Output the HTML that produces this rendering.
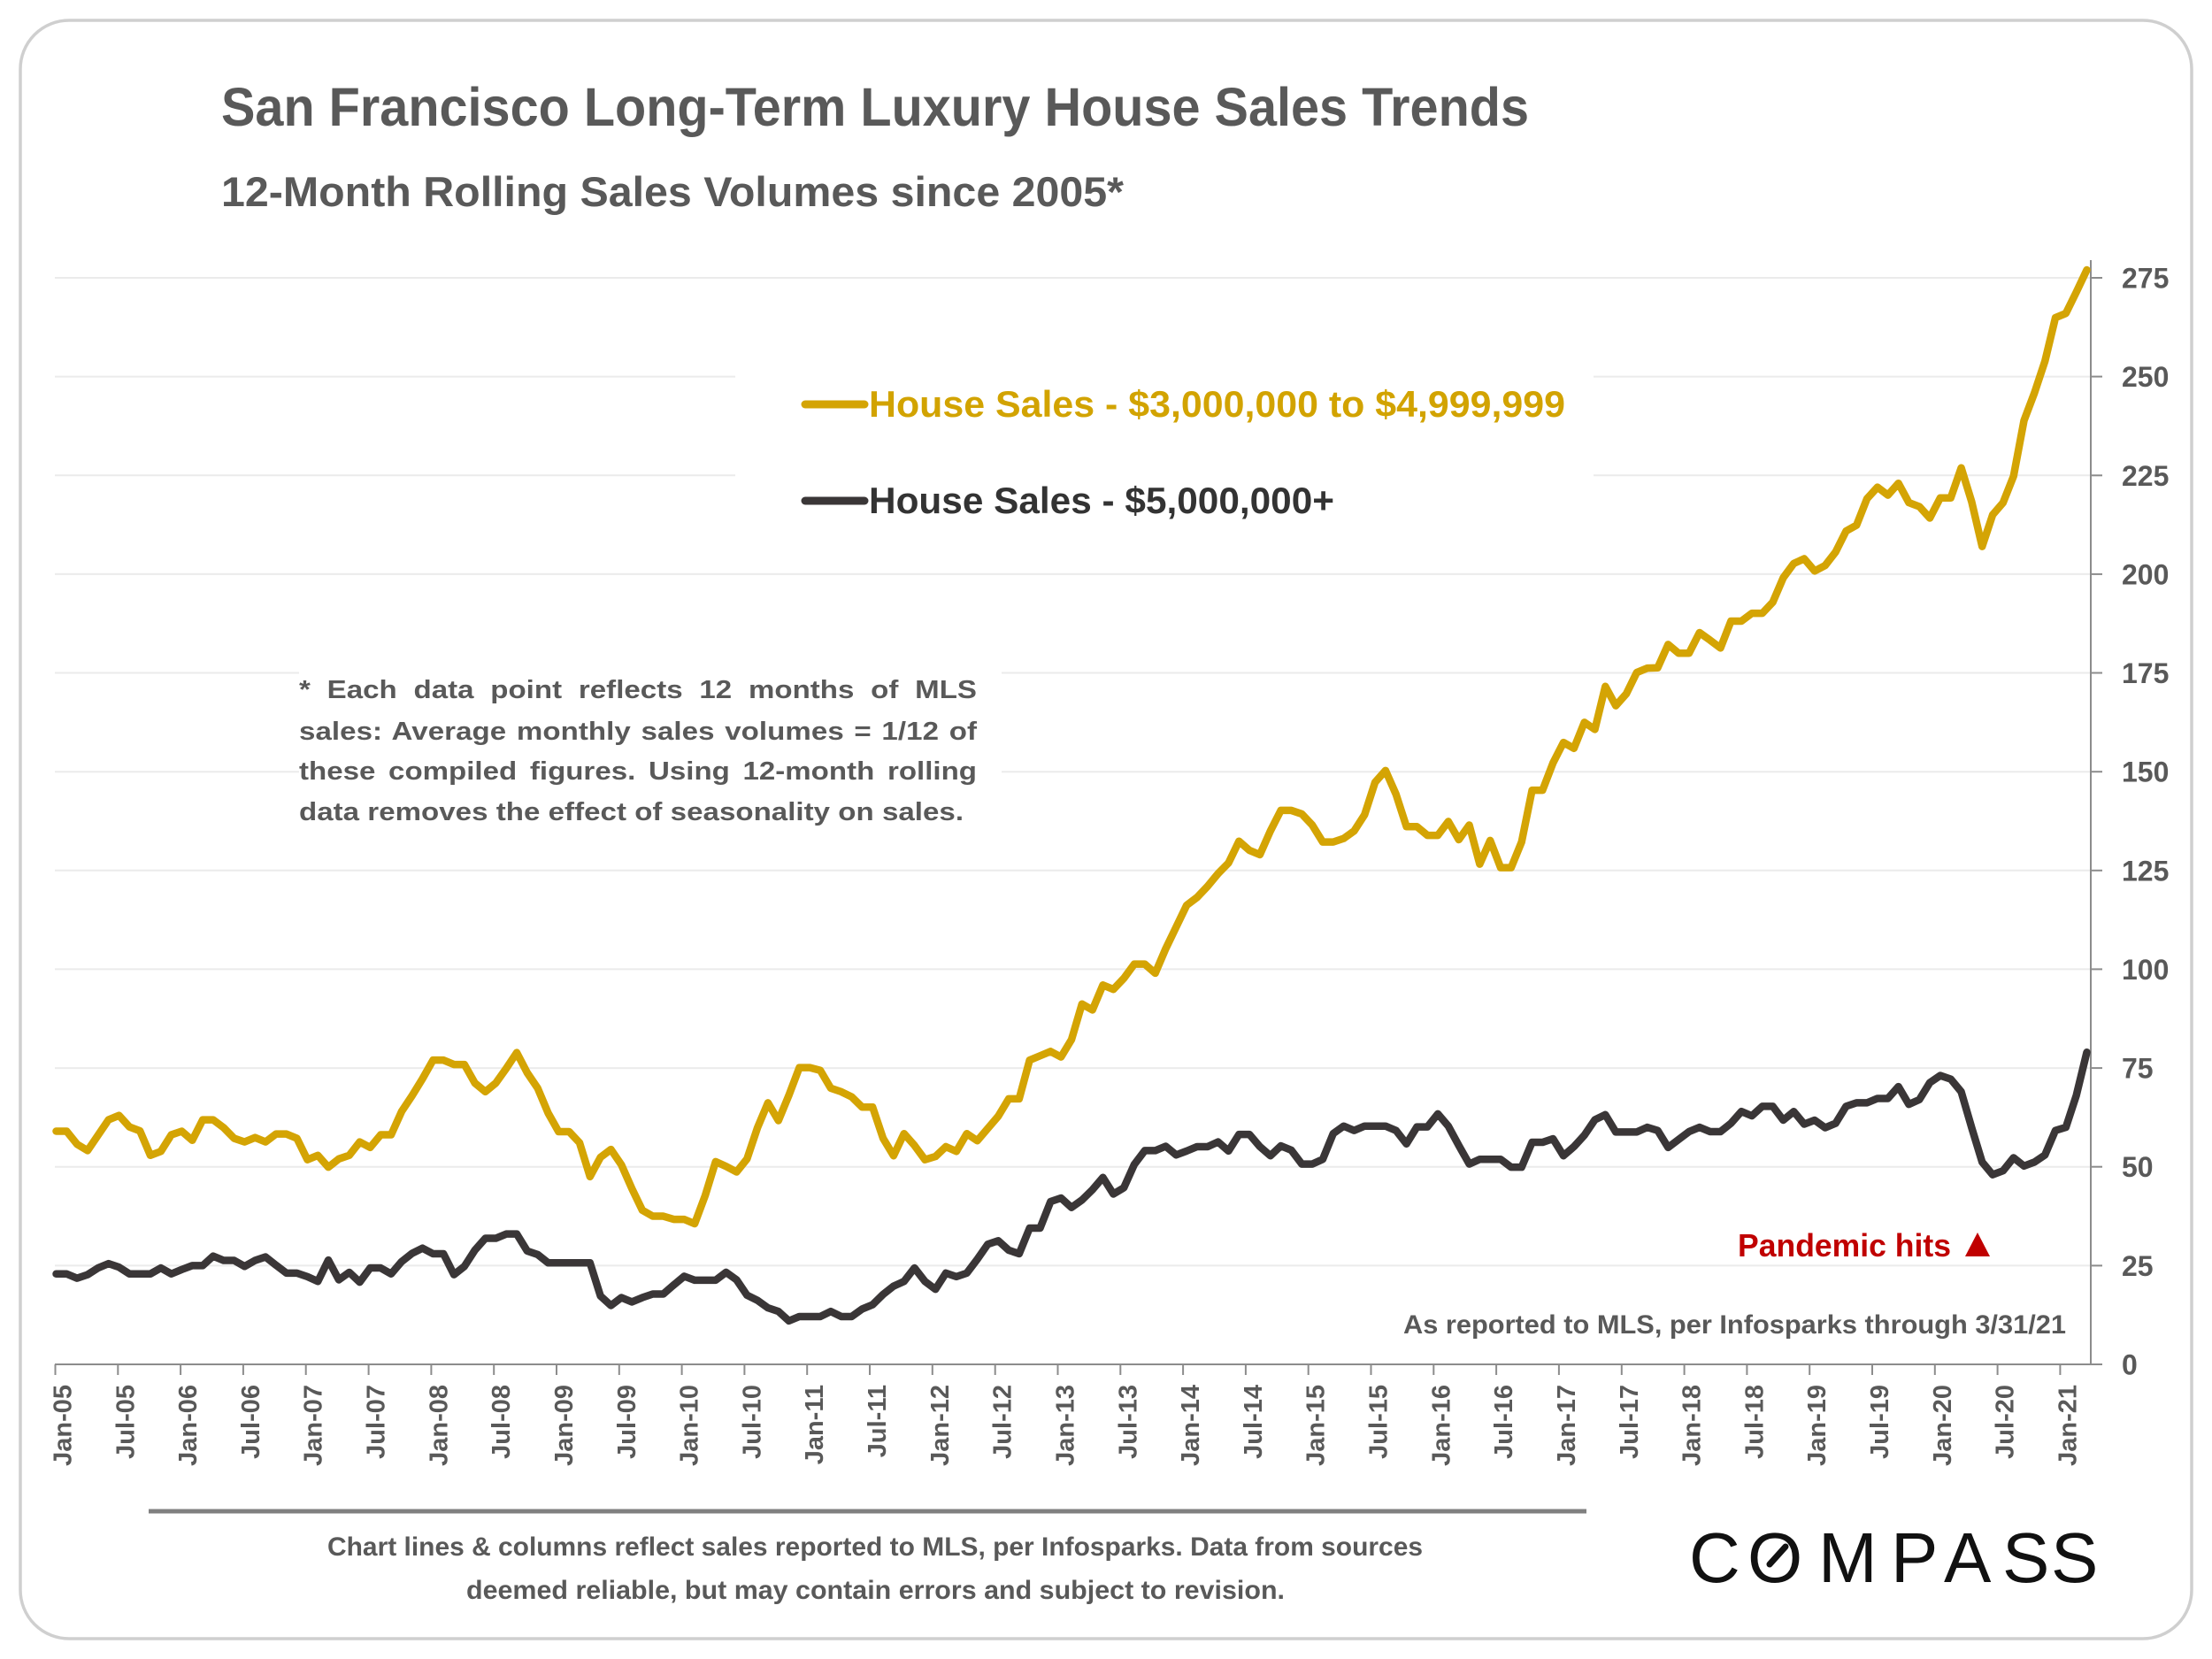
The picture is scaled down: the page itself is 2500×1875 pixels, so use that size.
<!DOCTYPE html>
<html>
<head>
<meta charset="utf-8">
<style>
  html,body{margin:0;padding:0;background:#fff;}
  svg{display:block;}
  text{font-family:"Liberation Sans",Arial,sans-serif;}
</style>
</head>
<body>
<svg width="2500" height="1875" viewBox="0 0 2500 1875" xmlns="http://www.w3.org/2000/svg">
  <rect x="0" y="0" width="2500" height="1875" fill="#fff"/>
  <!-- card -->
  <rect x="23" y="23" width="2454" height="1829" rx="55" ry="55" fill="#fff" stroke="#cfcfcf" stroke-width="3.5"/>

  <!-- titles -->
  <text x="250" y="142" font-size="61" font-weight="bold" fill="#595959" textLength="1478" lengthAdjust="spacingAndGlyphs">San Francisco Long-Term Luxury House Sales Trends</text>
  <text x="250" y="233" font-size="47" font-weight="bold" fill="#595959" textLength="1020" lengthAdjust="spacingAndGlyphs">12-Month Rolling Sales Volumes since 2005*</text>

  <!-- gridlines -->
  <g stroke="#ebebeb" stroke-width="2">
    <line x1="62" y1="314" x2="2363" y2="314"/>
    <line x1="62" y1="425.6" x2="2363" y2="425.6"/>
    <line x1="62" y1="537.3" x2="2363" y2="537.3"/>
    <line x1="62" y1="648.9" x2="2363" y2="648.9"/>
    <line x1="62" y1="760.5" x2="2363" y2="760.5"/>
    <line x1="62" y1="872.2" x2="2363" y2="872.2"/>
    <line x1="62" y1="983.8" x2="2363" y2="983.8"/>
    <line x1="62" y1="1095.4" x2="2363" y2="1095.4"/>
    <line x1="62" y1="1207.1" x2="2363" y2="1207.1"/>
    <line x1="62" y1="1318.7" x2="2363" y2="1318.7"/>
    <line x1="62" y1="1430.4" x2="2363" y2="1430.4"/>
  </g>

  <!-- white boxes behind legend and note -->
  <rect x="831" y="395" width="970" height="235" fill="#fff"/>
  <rect x="338" y="740" width="794" height="205" fill="#fff"/>

  <!-- axes -->
  <g stroke="#8c8c8c" stroke-width="2">
    <line x1="2363" y1="294" x2="2363" y2="1543"/>
    <line x1="62" y1="1542" x2="2364" y2="1542"/>
    <!-- y ticks -->
    <line x1="2363" y1="314" x2="2376" y2="314"/>
    <line x1="2363" y1="425.6" x2="2376" y2="425.6"/>
    <line x1="2363" y1="537.3" x2="2376" y2="537.3"/>
    <line x1="2363" y1="648.9" x2="2376" y2="648.9"/>
    <line x1="2363" y1="760.5" x2="2376" y2="760.5"/>
    <line x1="2363" y1="872.2" x2="2376" y2="872.2"/>
    <line x1="2363" y1="983.8" x2="2376" y2="983.8"/>
    <line x1="2363" y1="1095.4" x2="2376" y2="1095.4"/>
    <line x1="2363" y1="1207.1" x2="2376" y2="1207.1"/>
    <line x1="2363" y1="1318.7" x2="2376" y2="1318.7"/>
    <line x1="2363" y1="1430.4" x2="2376" y2="1430.4"/>
    <line x1="2363" y1="1542" x2="2376" y2="1542"/>
    <!-- x ticks -->
    <line x1="62.5" y1="1542" x2="62.5" y2="1554"/>
    <line x1="133.3" y1="1542" x2="133.3" y2="1554"/>
    <line x1="204.1" y1="1542" x2="204.1" y2="1554"/>
    <line x1="274.9" y1="1542" x2="274.9" y2="1554"/>
    <line x1="345.7" y1="1542" x2="345.7" y2="1554"/>
    <line x1="416.6" y1="1542" x2="416.6" y2="1554"/>
    <line x1="487.4" y1="1542" x2="487.4" y2="1554"/>
    <line x1="558.2" y1="1542" x2="558.2" y2="1554"/>
    <line x1="629" y1="1542" x2="629" y2="1554"/>
    <line x1="699.8" y1="1542" x2="699.8" y2="1554"/>
    <line x1="770.6" y1="1542" x2="770.6" y2="1554"/>
    <line x1="841.4" y1="1542" x2="841.4" y2="1554"/>
    <line x1="912.2" y1="1542" x2="912.2" y2="1554"/>
    <line x1="983" y1="1542" x2="983" y2="1554"/>
    <line x1="1053.8" y1="1542" x2="1053.8" y2="1554"/>
    <line x1="1124.7" y1="1542" x2="1124.7" y2="1554"/>
    <line x1="1195.5" y1="1542" x2="1195.5" y2="1554"/>
    <line x1="1266.3" y1="1542" x2="1266.3" y2="1554"/>
    <line x1="1337.1" y1="1542" x2="1337.1" y2="1554"/>
    <line x1="1407.9" y1="1542" x2="1407.9" y2="1554"/>
    <line x1="1478.7" y1="1542" x2="1478.7" y2="1554"/>
    <line x1="1549.5" y1="1542" x2="1549.5" y2="1554"/>
    <line x1="1620.3" y1="1542" x2="1620.3" y2="1554"/>
    <line x1="1691.1" y1="1542" x2="1691.1" y2="1554"/>
    <line x1="1761.9" y1="1542" x2="1761.9" y2="1554"/>
    <line x1="1832.8" y1="1542" x2="1832.8" y2="1554"/>
    <line x1="1903.6" y1="1542" x2="1903.6" y2="1554"/>
    <line x1="1974.4" y1="1542" x2="1974.4" y2="1554"/>
    <line x1="2045.2" y1="1542" x2="2045.2" y2="1554"/>
    <line x1="2116" y1="1542" x2="2116" y2="1554"/>
    <line x1="2186.8" y1="1542" x2="2186.8" y2="1554"/>
    <line x1="2257.6" y1="1542" x2="2257.6" y2="1554"/>
    <line x1="2328.4" y1="1542" x2="2328.4" y2="1554"/>
  </g>

  <!-- y labels -->
  <g font-size="32" font-weight="bold" fill="#595959">
    <text x="2398" y="325.5">275</text>
    <text x="2398" y="437.1">250</text>
    <text x="2398" y="548.8">225</text>
    <text x="2398" y="660.4">200</text>
    <text x="2398" y="772">175</text>
    <text x="2398" y="883.7">150</text>
    <text x="2398" y="995.3">125</text>
    <text x="2398" y="1106.9">100</text>
    <text x="2398" y="1218.6">75</text>
    <text x="2398" y="1330.2">50</text>
    <text x="2398" y="1441.9">25</text>
    <text x="2398" y="1553.5">0</text>
  </g>

  <!-- x labels -->
  <g font-size="29" font-weight="bold" fill="#595959" text-anchor="end">
    <text transform="translate(80.5,1565) rotate(-90)">Jan-05</text>
    <text transform="translate(151.3,1565) rotate(-90)">Jul-05</text>
    <text transform="translate(222.1,1565) rotate(-90)">Jan-06</text>
    <text transform="translate(292.9,1565) rotate(-90)">Jul-06</text>
    <text transform="translate(363.7,1565) rotate(-90)">Jan-07</text>
    <text transform="translate(434.6,1565) rotate(-90)">Jul-07</text>
    <text transform="translate(505.4,1565) rotate(-90)">Jan-08</text>
    <text transform="translate(576.2,1565) rotate(-90)">Jul-08</text>
    <text transform="translate(647,1565) rotate(-90)">Jan-09</text>
    <text transform="translate(717.8,1565) rotate(-90)">Jul-09</text>
    <text transform="translate(788.6,1565) rotate(-90)">Jan-10</text>
    <text transform="translate(859.4,1565) rotate(-90)">Jul-10</text>
    <text transform="translate(930.2,1565) rotate(-90)">Jan-11</text>
    <text transform="translate(1001,1565) rotate(-90)">Jul-11</text>
    <text transform="translate(1071.8,1565) rotate(-90)">Jan-12</text>
    <text transform="translate(1142.7,1565) rotate(-90)">Jul-12</text>
    <text transform="translate(1213.5,1565) rotate(-90)">Jan-13</text>
    <text transform="translate(1284.3,1565) rotate(-90)">Jul-13</text>
    <text transform="translate(1355.1,1565) rotate(-90)">Jan-14</text>
    <text transform="translate(1425.9,1565) rotate(-90)">Jul-14</text>
    <text transform="translate(1496.7,1565) rotate(-90)">Jan-15</text>
    <text transform="translate(1567.5,1565) rotate(-90)">Jul-15</text>
    <text transform="translate(1638.3,1565) rotate(-90)">Jan-16</text>
    <text transform="translate(1709.1,1565) rotate(-90)">Jul-16</text>
    <text transform="translate(1779.9,1565) rotate(-90)">Jan-17</text>
    <text transform="translate(1850.8,1565) rotate(-90)">Jul-17</text>
    <text transform="translate(1921.6,1565) rotate(-90)">Jan-18</text>
    <text transform="translate(1992.4,1565) rotate(-90)">Jul-18</text>
    <text transform="translate(2063.2,1565) rotate(-90)">Jan-19</text>
    <text transform="translate(2134,1565) rotate(-90)">Jul-19</text>
    <text transform="translate(2204.8,1565) rotate(-90)">Jan-20</text>
    <text transform="translate(2275.6,1565) rotate(-90)">Jul-20</text>
    <text transform="translate(2346.4,1565) rotate(-90)">Jan-21</text>
  </g>

  <!-- data series -->
  <g transform="translate(63.5,1542) scale(11.83,-4.4655)" fill="none" stroke-linejoin="round" stroke-linecap="round">
    <polyline vector-effect="non-scaling-stroke" stroke="#d4a404" stroke-width="8.5" points="0,59 1,59 2,55.7 3,54.1 4,58 5,61.9 6,63 7,60.1 8,59.1 9,52.9 10,53.9 11,58.1 12,59 13,56.7 14,61.9 15,61.9 16,59.9 17,57.2 18,56.3 19,57.4 20,56.3 21,58.3 22,58.3 23,57.2 24,51.8 25,52.9 26,49.9 27,52 28,52.9 29,56.3 30,54.9 31,58.1 32,58.1 33,64 34,68 35,72.3 36,77 37,77 38,75.9 39,75.9 40,71.2 41,69 42,71.2 43,74.9 44,78.9 45,73.8 46,69.9 47,63.6 48,58.9 49,58.9 50,56.1 51,47.5 52,52.4 53,54.4 54,50.5 55,44.5 56,39 57,37.5 58,37.5 59,36.7 60,36.7 61,35.6 62,42.7 63,51.3 64,50.1 65,48.7 66,52 67,59.9 68,66.2 69,61.7 70,68.1 71,75.1 72,75.1 73,74.4 74,69.9 75,69 76,67.7 77,65.1 78,65.1 79,57.2 80,52.8 81,58.4 82,55.4 83,51.8 84,52.6 85,55.1 86,53.9 87,58.4 88,56.6 89,59.7 90,62.8 91,67.2 92,67.2 93,77 94,78.1 95,79.2 96,77.8 97,82.2 98,91.2 99,89.7 100,96 101,94.9 102,97.7 103,101.3 104,101.3 105,99 106,105.2 107,110.7 108,116.2 109,118.2 110,121 111,124.2 112,126.9 113,132.4 114,130.1 115,129 116,135 117,140.2 118,140.2 119,139.3 120,136.5 121,132.2 122,132.2 123,133.1 124,135 125,139.1 126,147.3 127,150.3 128,144.3 129,136.1 130,136.1 131,133.9 132,133.9 133,137.4 134,132.8 135,136.5 136,126.6 137,132.6 138,125.7 139,125.7 140,132.2 141,145.3 142,145.3 143,152.2 144,157.4 145,155.9 146,162.5 147,160.7 148,171.6 149,166.7 150,169.7 151,175.1 152,176.2 153,176.3 154,182.2 155,180 156,180 157,185.2 158,183.3 159,181.3 160,188.1 161,188.1 162,190.1 163,190.1 164,192.9 165,199.1 166,202.7 167,203.9 168,200.8 169,202.2 170,205.6 171,210.9 172,212.4 173,219.1 174,222 175,220 176,223 177,218.1 178,217.1 179,214.2 180,219.3 181,219.3 182,226.9 183,218.3 184,207 185,215 186,218.1 187,224.8 188,238.9 189,245.9 190,253.9 191,264.9 192,266 193,271.4 194,277"/>
    <polyline vector-effect="non-scaling-stroke" stroke="#3a3637" stroke-width="8.5" points="0,22.9 1,22.9 2,21.8 3,22.7 4,24.4 5,25.5 6,24.6 7,22.9 8,22.9 9,22.9 10,24.4 11,22.9 12,24 13,25 14,25 15,27.4 16,26.3 17,26.3 18,24.8 19,26.3 20,27.2 21,25.1 22,23.1 23,23.1 24,22.2 25,21 26,26.4 27,21.4 28,23.3 29,20.8 30,24.4 31,24.4 32,22.9 33,26 34,28.1 35,29.4 36,28 37,28 38,22.7 39,24.8 40,28.9 41,31.9 42,31.9 43,33 44,33 45,28.7 46,27.8 47,25.7 48,25.7 49,25.7 50,25.7 51,25.7 52,17.3 53,14.9 54,16.9 55,15.8 56,16.9 57,17.8 58,17.8 59,20.1 60,22.3 61,21.3 62,21.3 63,21.3 64,23.3 65,21.4 66,17.5 67,16.2 68,14.3 69,13.4 70,11 71,12.1 72,12.1 73,12.1 74,13.4 75,12.1 76,12.1 77,14 78,15.1 79,17.7 80,19.8 81,21 82,24.4 83,21 84,19 85,23.1 86,22.2 87,23.1 88,26.6 89,30.4 90,31.3 91,28.9 92,28 93,34.5 94,34.5 95,41.2 96,42.1 97,39.7 98,41.6 99,44.2 100,47.3 101,43.1 102,44.7 103,50.6 104,54.1 105,54.1 106,55.2 107,53 108,54 109,55.1 110,55.1 111,56.3 112,54 113,58.2 114,58.2 115,55.1 116,52.8 117,55.3 118,54.2 119,50.7 120,50.7 121,51.9 122,58.4 123,60.3 124,59.2 125,60.3 126,60.3 127,60.3 128,59.2 129,55.8 130,60.1 131,60.1 132,63.4 133,60.3 134,55.4 135,50.7 136,51.9 137,51.9 138,51.9 139,49.9 140,49.9 141,56.2 142,56.2 143,57.1 144,52.8 145,55.1 146,58 147,61.9 148,63.2 149,58.8 150,58.8 151,58.8 152,60 153,59.2 154,54.9 155,56.9 156,58.9 157,60 158,58.9 159,58.9 160,61 161,64 162,62.9 163,65.3 164,65.3 165,61.8 166,64 167,60.8 168,61.8 169,59.9 170,61 171,65.3 172,66.2 173,66.2 174,67.3 175,67.3 176,70.3 177,65.8 178,67 179,71.3 180,73.1 181,72.2 182,69 183,59.9 184,51.2 185,48 186,49 187,52.3 188,50.2 189,51.2 190,53 191,59.2 192,60 193,68.1 194,79"/>
  </g>

  <!-- legend -->
  <line x1="910" y1="457" x2="977" y2="457" stroke="#d4a404" stroke-width="9" stroke-linecap="round"/>
  <text x="982" y="471" font-size="42" font-weight="bold" fill="#d2a300" textLength="787" lengthAdjust="spacingAndGlyphs">House Sales - $3,000,000 to $4,999,999</text>
  <line x1="910" y1="566" x2="977" y2="566" stroke="#3a3637" stroke-width="9" stroke-linecap="round"/>
  <text x="982" y="580" font-size="42" font-weight="bold" fill="#333" textLength="526" lengthAdjust="spacingAndGlyphs">House Sales - $5,000,000+</text>

  <!-- note (justified, horizontally widened to mimic original font) -->
  <g font-size="29" font-weight="bold" fill="#595959" transform="translate(338,0) scale(1.14,1)">
    <text x="0" y="789" word-spacing="8.4" textLength="671.9" lengthAdjust="spacing">* Each data point reflects 12 months of MLS</text>
    <text x="0" y="836" word-spacing="2.1" textLength="671.9" lengthAdjust="spacing">sales: Average monthly sales volumes = 1/12 of</text>
    <text x="0" y="881" word-spacing="4.8" textLength="671.9" lengthAdjust="spacing">these compiled figures. Using 12-month rolling</text>
    <text x="0" y="927" textLength="658.8" lengthAdjust="spacing">data removes the effect of seasonality on sales.</text>
  </g>

  <!-- pandemic annotation -->
  <text x="1964" y="1420" font-size="36" font-weight="bold" fill="#c00000" textLength="241" lengthAdjust="spacingAndGlyphs">Pandemic hits</text>
  <polygon points="2221,1420 2249,1420 2235,1393" fill="#c00000"/>

  <text x="1586" y="1507" font-size="30" font-weight="bold" fill="#595959" textLength="749" lengthAdjust="spacingAndGlyphs">As reported to MLS, per Infosparks through 3/31/21</text>

  <!-- separator + footer -->
  <line x1="168" y1="1708" x2="1793" y2="1708" stroke="#808080" stroke-width="5"/>
  <text x="370" y="1758" font-size="30" font-weight="bold" fill="#595959" textLength="1238" lengthAdjust="spacingAndGlyphs">Chart lines &amp; columns reflect sales reported to MLS, per Infosparks. Data from sources</text>
  <text x="527" y="1807" font-size="30" font-weight="bold" fill="#595959" textLength="925" lengthAdjust="spacingAndGlyphs">deemed reliable, but may contain errors and subject to revision.</text>

  <!-- COMPASS logo -->
  <text x="1909 1975 2055 2137 2197 2263 2318" y="1788" font-size="80" fill="#111">COMPASS</text>
  <line x1="2000" y1="1768" x2="2018" y2="1748" stroke="#111" stroke-width="7" stroke-linecap="round"/>
</svg>
</body>
</html>
